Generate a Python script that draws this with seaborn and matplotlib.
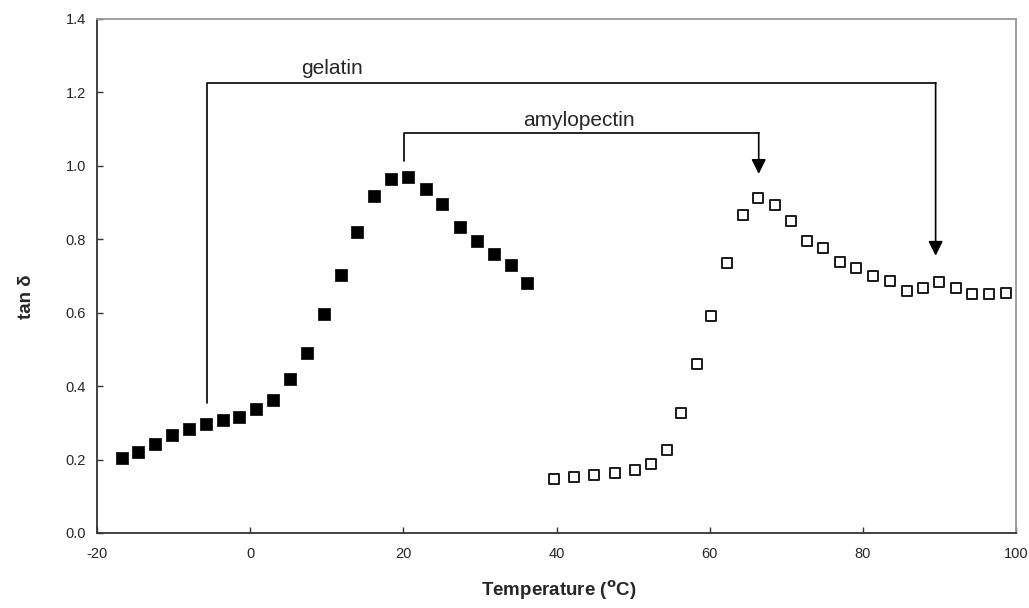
import numpy as np
import pandas as pd
import matplotlib
matplotlib.use("Agg")
import matplotlib.pyplot as plt
import seaborn as sns

# ==========================================
# Data
# ==========================================

gelatin_temp = [-16.8, -14.6, -12.4, -10.2, -8.0, -5.8, -3.6, -1.4, 0.8, 3.0,
                5.2, 7.4, 9.6, 11.8, 14.0, 16.2, 18.4, 20.6, 22.9, 25.1,
                27.4, 29.6, 31.8, 34.0, 36.2]
gelatin_tan = [0.203, 0.220, 0.243, 0.268, 0.283, 0.298, 0.307, 0.315, 0.337, 0.361,
               0.420, 0.490, 0.597, 0.704, 0.820, 0.918, 0.964, 0.970, 0.936, 0.895,
               0.834, 0.796, 0.759, 0.729, 0.681]

amylo_temp = [39.7, 42.3, 44.9, 47.6, 50.2, 52.4, 54.4, 56.3, 58.3, 60.2,
              62.2, 64.3, 66.3, 68.5, 70.6, 72.7, 74.8, 77.0, 79.1, 81.3,
              83.6, 85.8, 87.9, 90.0, 92.2, 94.3, 96.5, 98.7]
amylo_tan = [0.148, 0.153, 0.157, 0.162, 0.172, 0.188, 0.227, 0.327, 0.459, 0.590,
             0.735, 0.866, 0.913, 0.893, 0.849, 0.794, 0.775, 0.739, 0.721, 0.700,
             0.686, 0.660, 0.667, 0.683, 0.666, 0.652, 0.652, 0.653]

x_ticks = [-20, 0, 20, 40, 60, 80, 100]
y_ticks = [0.0, 0.2, 0.4, 0.6, 0.8, 1.0, 1.2, 1.4]

# ==========================================
# Plot
# ==========================================

sns.set_style("white")
plt.rcParams["font.family"] = ["Liberation Sans", "DejaVu Sans"]

fig = plt.figure(figsize=(10.29, 6.08), dpi=100)
ax = fig.add_axes([0.0943, 0.1234, 0.8931, 0.8454])

sns.scatterplot(x=gelatin_temp, y=gelatin_tan, marker="s", s=78,
                color="black", edgecolor="black", linewidth=0.5, ax=ax)
sns.scatterplot(x=amylo_temp, y=amylo_tan, marker="s", s=58,
                facecolor="white", edgecolor="#1a1a1a", linewidth=1.4, ax=ax)

ax.set_xlim(-20, 100)
ax.set_ylim(0, 1.4)
ax.set_xticks(x_ticks)
ax.set_yticks(y_ticks)
ax.set_xticklabels([str(t) for t in x_ticks])
ax.set_yticklabels([f"{t:.1f}" for t in y_ticks])
ax.tick_params(axis="both", direction="in", length=4, width=1,
               labelsize=10.5, color="#333333", pad=8, bottom=True, left=True)
ax.tick_params(axis="x", pad=10)

for side in ["left", "bottom"]:
    ax.spines[side].set_color("#333333")
    ax.spines[side].set_linewidth(1.3)
for side in ["top", "right"]:
    ax.spines[side].set_color("#999999")
    ax.spines[side].set_linewidth(1.3)

ax.set_xlabel("Temperature ($\\mathbf{^o}$C)", fontsize=13.5, fontweight="bold")
ax.xaxis.set_label_coords(0.502, -0.088)
ax.set_ylabel("tan δ", fontsize=13.5, fontweight="bold")
ax.yaxis.set_label_coords(-0.068, 0.46)

# Brackets with arrows
arrow_kw = dict(arrowstyle="-|>", color="black", lw=1.2, mutation_scale=22,
                shrinkA=0, shrinkB=0)

ax.plot([-5.6, -5.6, 89.5], [0.354, 1.226, 1.226], color="black", lw=1.2)
ax.annotate("", xy=(89.5, 0.755), xytext=(89.5, 1.226), arrowprops=arrow_kw)
ax.text(10.7, 1.265, "gelatin", fontsize=15, ha="center", va="center")

ax.plot([20.1, 20.1, 66.4], [1.013, 1.090, 1.090], color="black", lw=1.2)
ax.annotate("", xy=(66.4, 0.978), xytext=(66.4, 1.090), arrowprops=arrow_kw)
ax.text(42.9, 1.124, "amylopectin", fontsize=15, ha="center", va="center")

plt.savefig("out.png", dpi=100)
plt.close()
